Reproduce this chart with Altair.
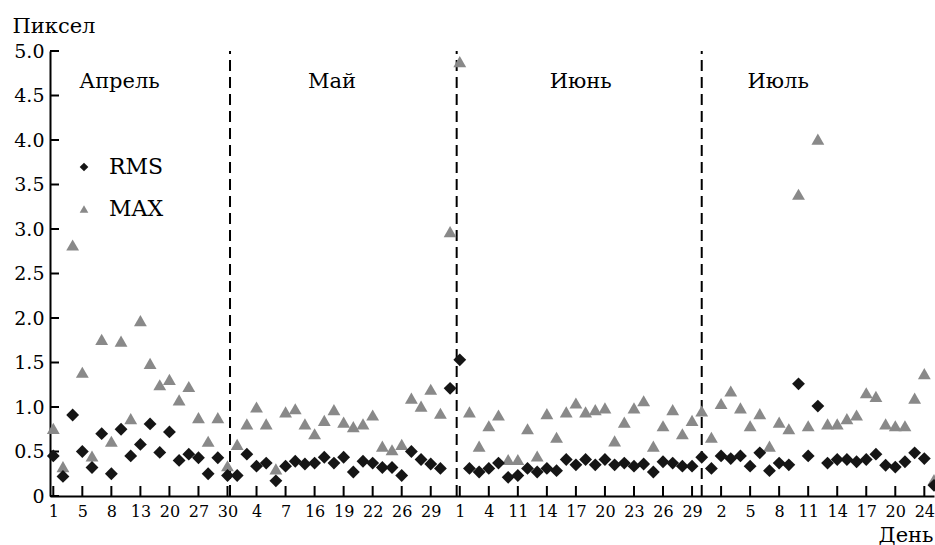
import altair as alt
import pandas as pd

# ---- data ----
rms = [0.45, 0.22, 0.91, 0.50, 0.32, 0.70, 0.25, 0.75, 0.45, 0.58, 0.81, 0.49, 0.72, 0.40, 0.47, 0.43, 0.25, 0.43, 0.23,
       0.23, 0.47, 0.335, 0.37, 0.17, 0.335, 0.39, 0.36, 0.37, 0.435, 0.37, 0.435, 0.27, 0.39, 0.37, 0.32, 0.32, 0.23, 0.50,
       0.41, 0.36, 0.31, 1.21,
       1.53, 0.31, 0.27, 0.31, 0.37, 0.21, 0.23, 0.31, 0.27, 0.31, 0.285, 0.41, 0.35, 0.41, 0.35, 0.41, 0.35, 0.37, 0.335,
       0.36, 0.27, 0.385, 0.37, 0.335, 0.335,
       0.435, 0.31, 0.45, 0.42, 0.45, 0.335, 0.485, 0.285, 0.37, 0.35, 1.26, 0.45, 1.01, 0.37, 0.41, 0.41, 0.385, 0.41,
       0.47, 0.345, 0.325, 0.385, 0.485, 0.42, 0.12]
mx = [0.76, 0.33, 2.82, 1.39, 0.45, 1.76, 0.615, 1.74, 0.87, 1.97, 1.49, 1.25, 1.31, 1.08, 1.23, 0.88, 0.615, 0.88, 0.34,
      0.58, 0.81, 1.00, 0.81, 0.305, 0.945, 0.98, 0.81, 0.70, 0.85, 0.97, 0.83, 0.78, 0.81, 0.91, 0.56, 0.52, 0.58, 1.10,
      1.01, 1.20, 0.93, 2.97,
      4.88, 0.945, 0.56, 0.79, 0.91, 0.41, 0.41, 0.755, 0.45, 0.925, 0.66, 0.945, 1.045, 0.945, 0.97, 0.99, 0.62, 0.83,
      0.99, 1.07, 0.56, 0.79, 0.97, 0.70, 0.85,
      0.955, 0.66, 1.04, 1.18, 0.99, 0.79, 0.925, 0.56, 0.83, 0.755, 3.39, 0.79, 4.01, 0.81, 0.81, 0.87, 0.91, 1.16,
      1.12, 0.81, 0.79, 0.79, 1.10, 1.375, 0.185]

x_tick_labels = ['1', '5', '8', '13', '20', '27', '30', '4', '7', '16', '19', '22', '26', '29',
                 '1', '4', '11', '14', '17', '20', '23', '26', '29', '2', '5', '8', '11', '14', '17', '20', '24']
months = ['Апрель', 'Май', 'Июнь', 'Июль']
month_pos = [6.84, 28.8, 54.5, 74.9]
month_y = [4.585, 4.585, 4.585, 4.585]
boundaries = [18.26, 41.68, 67.0]
y_ticks = [0, 0.5, 1.0, 1.5, 2.0, 2.5, 3.0, 3.5, 4.0, 4.5, 5.0]

# ---- tables ----
n = len(rms)
pts = pd.concat([
    pd.DataFrame({'i': list(range(n)), 'v': mx, 's': ['MAX'] * n}),
    pd.DataFrame({'i': list(range(n)), 'v': rms, 's': ['RMS'] * n}),
], ignore_index=True)
xt = pd.DataFrame({'i': [3 * k for k in range(len(x_tick_labels))]})
yt = pd.DataFrame({'v': y_ticks})
mdf = pd.DataFrame({'i': month_pos, 'v': month_y, 'm': months})
bdf = pd.DataFrame({'i': boundaries, 'y0': [0] * 3, 'y1': [5] * 3})

W, H = 884, 445
FONT = 'DejaVu Serif'

labels_js = '[' + ','.join("'" + s + "'" for s in x_tick_labels) + ']'
xscale = alt.Scale(domain=[-0.34, 91.0], nice=False, zero=False)
yscale = alt.Scale(domain=[0, 5], nice=False)
xaxis = alt.Axis(values=[3 * k for k in range(len(x_tick_labels))],
                 labelExpr=labels_js + '[round(datum.value/3)]',
                 ticks=False, grid=False, labelFontSize=16, labelPadding=7,
                 title='День', titleX=W - 1, titleY=45, titleAlign='right',
                 titleBaseline='alphabetic', titleFontSize=21)
yaxis = alt.Axis(values=y_ticks, labelExpr="datum.value == 0 ? '0' : format(datum.value, '.1f')",
                 ticks=False, grid=False, labelFontSize=19, labelPadding=6,
                 title='Пиксел', titleAngle=0, titleX=-38, titleY=-19, titleAlign='left',
                 titleBaseline='alphabetic', titleFontSize=21)

X = lambda f: alt.X(f, type='quantitative', scale=xscale, axis=xaxis)
Y = lambda f: alt.Y(f, type='quantitative', scale=yscale, axis=yaxis)

dashed = alt.Chart(bdf).mark_rule(color='black', strokeWidth=2, strokeDash=[11, 6]).encode(
    x=X('i'), y=Y('y0'), y2='y1')

month_text = alt.Chart(mdf).mark_text(font=FONT, fontSize=21, baseline='alphabetic', align='center',
                                      color='black').encode(x=X('i'), y=Y('v'), text='m')

xticks = alt.Chart(xt).mark_rule(color='black', strokeWidth=2).encode(
    x=X('i'), y=alt.value(H), y2=alt.value(H - 10))
yticks = alt.Chart(yt).mark_rule(color='black', strokeWidth=2).encode(
    y=Y('v'), x=alt.value(0), x2=alt.value(9))

leg = alt.Legend(title=None, orient='none', legendX=23, legendY=105,
                 labelFont=FONT, labelFontSize=22, symbolSize=75,
                 rowPadding=20, labelOffset=14, symbolStrokeWidth=0)
points = alt.Chart(pts).mark_point(filled=True, size=165, opacity=1).encode(
    x=X('i'), y=Y('v'),
    shape=alt.Shape('s:N', scale=alt.Scale(domain=['RMS', 'MAX'], range=['diamond', 'triangle-up']), legend=leg),
    color=alt.Color('s:N', scale=alt.Scale(domain=['RMS', 'MAX'], range=['#151515', '#898989']), legend=leg),
    order=alt.Order('s:N', sort='ascending'),
)

chart = alt.layer(dashed, month_text, xticks, yticks, points).properties(
    width=W, height=H,
    autosize=alt.AutoSizeParams(type='none'),
    padding={'left': 50, 'top': 51, 'right': 1, 'bottom': 49},
    background='white',
).configure_view(stroke=None).configure_axis(
    labelFont=FONT, titleFont=FONT, labelColor='black', titleColor='black',
    domainColor='black', domainWidth=2, titleFontWeight='normal',
).configure_legend(labelColor='black', labelFont=FONT).configure_text(font=FONT)

chart.save('out.html', embed_options={'renderer': 'svg', 'actions': False})
